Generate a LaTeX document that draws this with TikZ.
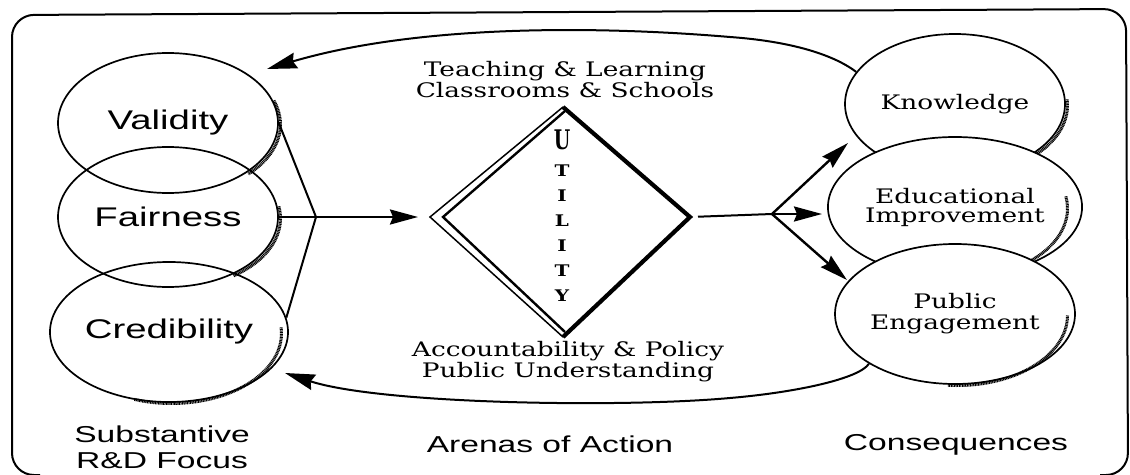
\documentclass[tikz,border=0pt]{standalone}
\usepackage{fontspec}
\usepackage{graphicx}
\usetikzlibrary{shapes.geometric,arrows.meta}
\newfontfamily\sansf{Liberation Sans}
\newfontfamily\seriff{DejaVu Serif}
\newcommand\sxa[1]{\scalebox{1.42}[1]{#1}}
\newcommand\sxb[1]{\scalebox{1.46}[1]{#1}}
\newcommand\sxc[1]{\scalebox{1.32}[1]{#1}}
\newcommand\sxu[1]{\scalebox{1.25}[1]{#1}}
\newcommand\esh[3]{\draw[shd] ([shift={(2.5,1.5)}]#1.center) ++(#2:110 and 70) arc[start angle=#2,end angle=#3,x radius=110,y radius=70];}
\begin{document}
\begin{tikzpicture}[x=1pt,y=-1pt,
  ell/.style={ellipse,draw,line width=1.7pt,minimum width=220pt,minimum height=140pt,inner sep=0pt},
  fillell/.style={ell,fill=white},
  shd/.style={line width=3pt,dash pattern=on 1pt off 0.6pt},
  conn/.style={line width=2pt},
  arr/.style={line width=2.4pt,-{Stealth[length=28pt,width=15pt,inset=3pt]}},
  biglab/.style={font=\sansf\fontsize{27}{30}\selectfont},
  botlab/.style={font=\sansf\fontsize{23}{26}\selectfont,inner sep=0pt,align=center},
  serlab/.style={font=\seriff\fontsize{20}{19}\selectfont,align=center},
  toplab/.style={font=\seriff\fontsize{20}{18.5}\selectfont,inner sep=0pt,align=center}]
\useasboundingbox (0,0) rectangle (1130,474);

% frame
\draw[line width=2pt,rounded corners=22pt] (1100,475) -- (1128,475) -- (1126,9) -- (12,15) -- (12,475) -- (40,475);

% left ellipses
\node[ell,biglab] (val) at (168,123) {\sxa{Validity}};
\node[ell,biglab] (fai) at (168,217) {\sxa{Fairness}};
\node[ell,biglab] (cre) at (169,332) {\sxa{Credibility}};
\esh{val}{-20}{45}
\esh{fai}{-10}{55}
\esh{cre}{-5}{110}

% diamond
\coordinate (dT) at (563,107);
\coordinate (dL) at (430,217);
\coordinate (dB) at (563,337);
\coordinate (dR) at (690,217);
\coordinate (iL) at (443,217);
\draw[line width=1.5pt,line join=miter] (dT) -- (dL) -- (dB);
\draw[line width=2.4pt,line join=miter] ([shift={(2,4)}]dT) -- (iL) -- ([shift={(2,-5)}]dB);
\draw[line width=4.2pt,line join=miter] (dT) -- (dR) -- (dB);
\node[anchor=north,inner sep=0pt,align=center,font=\seriff\bfseries\fontsize{16}{25}\selectfont] (util) at (562,130)
  {{\fontsize{27}{27}\selectfont\scalebox{0.7}[1]{U}}\\[2pt]\sxu{T}\\\sxu{I}\\\sxu{L}\\\sxu{I}\\\sxu{T}\\\sxu{Y}};

% left connectors
\coordinate (jL) at (316,217);
\draw[conn] (val.east) -- (jL);
\draw[conn] (fai.east) -- (jL);
\draw[conn] (cre.7) -- (jL);
\draw[arr,shorten >=12pt] (jL) -- (dL);

% feedback curve end points
\coordinate (tV) at (267,69);
\coordinate (tC) at (285,373);

% right ellipses
\node[fillell,serlab] (kno) at (955,104) {\raisebox{-2.5pt}{\sxc{Knowledge}}};
\draw[line width=2pt,-{Stealth[length=30pt,width=16pt,inset=3pt]}] (kno.162) .. controls (838,58) and (800,42) .. (730,37) .. controls (600,26) and (420,24) .. (tV);
\esh{kno}{-5}{60}
\node[fillell,serlab] (edu) at (955,207) {\sxc{Educational}\\\sxc{Improvement}};
\esh{edu}{-10}{60}
\node[fillell,font=\seriff\fontsize{20}{21}\selectfont,align=center] (pub) at (955,314) {\sxc{Public}\\\sxc{Engagement}};
\esh{pub}{0}{95}
\draw[line width=2pt,-{Stealth[length=30pt,width=16pt,inset=3pt]}] (pub.210) .. controls (860,378) and (800,392) .. (730,398) .. controls (620,408) and (380,404) .. (tC);

% right connectors
\coordinate (jR) at (772,214);
\coordinate (tK) at (848,143);
\coordinate (tE) at (822,214);
\coordinate (tP) at (847,280);
\draw[conn,shorten <=8pt] (dR) -- (jR);
\draw[arr] (jR) -- (tK);
\draw[arr] (jR) -- (tE);
\draw[arr] (jR) -- (tP);

% arena labels
\node[toplab,anchor=north] (teach) at (565,61) {\sxc{Teaching \& Learning}\\\sxc{Classrooms \& Schools}};
\node[toplab,anchor=north,font=\seriff\fontsize{20}{19.5}\selectfont] (acc) at (568,341.5) {\sxc{Accountability \& Policy}\\\sxc{Public Understanding}};

% bottom labels
\node[botlab,anchor=north] (subst) at (162,426) {\sxb{Substantive}\\\sxb{R\&D Focus}};
\node[botlab,anchor=base] (arenas) at (550,452) {\sxb{Arenas of Action}};
\node[botlab,anchor=base] (cons) at (956,450) {\sxb{Consequences}};
\end{tikzpicture}
\end{document}
